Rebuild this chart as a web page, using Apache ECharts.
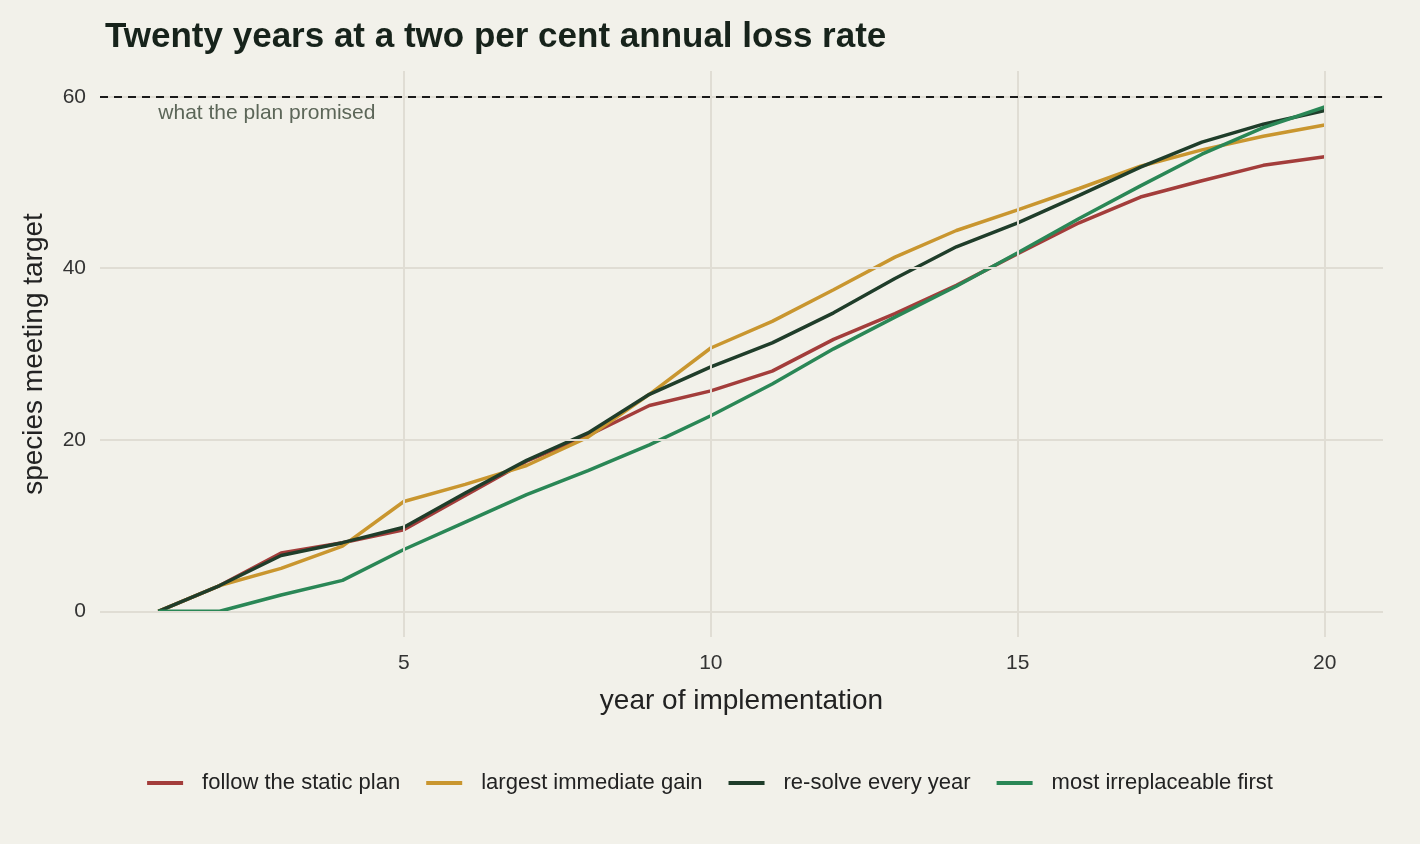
<!DOCTYPE html>
<html lang="en">
<head>
<meta charset="UTF-8">
<title>loss rate</title>
<script src="https://cdn.jsdelivr.net/npm/echarts@6/dist/echarts.min.js"></script>
<style>html,body{margin:0;background:#f2f1ea}#chart{width:1420px;height:844px}</style>
</head>
<body>
<div id="chart"></div>
<script>
var years = [1,2,3,4,5,6,7,8,9,10,11,12,13,14,15,16,17,18,19,20];
var staticPlan = [0,3,6.8,8,9.5,13.5,17.5,20.5,24,25.7,28,31.7,34.7,38,41.7,45.3,48.3,50.2,52,53];
var greedy = [0,3,5,7.6,12.8,14.8,17,20.3,25.3,30.7,33.8,37.5,41.3,44.4,46.8,49.3,51.9,53.8,55.4,56.7];
var resolve = [0,3,6.5,8,9.8,13.8,17.6,20.8,25.3,28.5,31.3,34.8,38.8,42.5,45.3,48.5,51.8,54.7,56.8,58.4];
var irreplaceable = [0,0,1.9,3.6,7.2,10.4,13.6,16.4,19.4,22.8,26.5,30.6,34.3,37.9,41.8,45.8,49.6,53.3,56.4,58.8];
var xTicks = [5,10,15,20];
var yTicks = [0,20,40,60];
var target = 60;

var chart = echarts.init(document.getElementById('chart'), null, {renderer: 'canvas'});
function pairs(v){ return years.map(function(x,i){ return [x, v[i]]; }); }
function line(name, v, color){
    return {name: name, type: 'line', data: pairs(v), symbol: 'none', silent: true,
        lineStyle: {color: color, width: 3.5}, itemStyle: {color: color}, z: 3};
}
var gridLines = xTicks.map(function(v){ return {xAxis: v}; })
    .concat(yTicks.map(function(v){ return {yAxis: v}; }));
var series = [
    {type: 'line', data: [], silent: true, markLine: {silent: true, symbol: 'none', label: {show: false},
        lineStyle: {color: '#e0ddd4', width: 2, type: 'solid'}, data: gridLines}, z: 1},
    line('follow the static plan', staticPlan, '#a33d3b'),
    line('largest immediate gain', greedy, '#c9962f'),
    line('re-solve every year', resolve, '#1f3d2a'),
    line('most irreplaceable first', irreplaceable, '#2a8756')
];
series[1].markLine = {silent: true, symbol: 'none', label: {show: false},
    lineStyle: {color: '#1a1a1a', width: 2, type: [8, 6]}, data: [{yAxis: target}]};
series[1].markPoint = {symbol: 'circle', symbolSize: 0, silent: true,
    data: [{coord: [1, target], label: {show: true, position: 'right', distance: 0, offset: [0, 16],
        formatter: 'what the plan promised', color: '#5c6658', fontSize: 21, fontFamily: 'Liberation Sans'}}]};

option = {
    backgroundColor: '#f2f1ea',
    textStyle: {fontFamily: 'Liberation Sans'},
    title: {text: 'Twenty years at a two per cent annual loss rate', left: 100, top: 15,
        textStyle: {fontSize: 35, fontWeight: 'bold', color: '#17231b', fontFamily: 'Liberation Sans'}},
    grid: {left: 100, right: 37, top: 71, bottom: 207},
    xAxis: {type: 'value', min: 0.05, max: 20.95, name: 'year of implementation', nameLocation: 'middle', nameGap: 50,
        nameTextStyle: {fontSize: 28, color: '#222'},
        axisLine: {show: false}, axisTick: {show: false}, splitLine: {show: false},
        axisLabel: {customValues: xTicks, fontSize: 21, color: '#333', margin: 16}},
    yAxis: {type: 'value', min: -3, max: 63, name: 'species meeting target', nameLocation: 'middle', nameGap: 52,
        nameTextStyle: {fontSize: 28, color: '#222'},
        axisLine: {show: false}, axisTick: {show: false}, splitLine: {show: false},
        axisLabel: {customValues: yTicks, fontSize: 21, color: '#333', margin: 14}},
    legend: {bottom: 45, left: 'center', itemWidth: 36, itemHeight: 4, itemGap: 26,
        icon: 'rect', textStyle: {fontSize: 22, color: '#222', padding: [0, 0, 0, 14]},
        data: ['follow the static plan', 'largest immediate gain', 're-solve every year', 'most irreplaceable first']},
    series: series
};
chart.setOption(option);
</script>
</body>
</html>
